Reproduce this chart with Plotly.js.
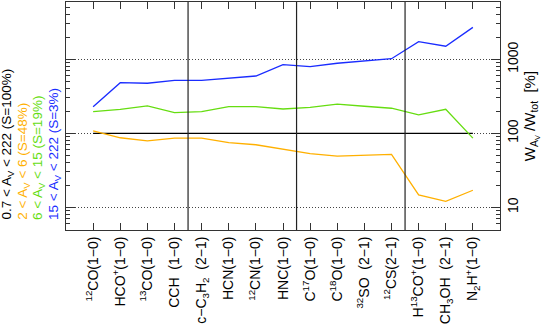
<!DOCTYPE html>
<html><head><meta charset="utf-8">
<script src="https://cdn.plot.ly/plotly-3.0.1.min.js"></script>
<style>html,body{margin:0;padding:0;background:#fff}#c{width:543px;height:332px}</style>
</head><body><div id="c"></div>
<script>
const lines = ["<sup>12</sup>CO(1\u22120)","HCO<sup>+</sup>(1\u22120)","<sup>13</sup>CO(1\u22120)","CCH  (1\u22120)",
  "c\u2212C<sub>3</sub>H<sub>2</sub>  (2\u22121)","HCN(1\u22120)","<sup>12</sup>CN(1\u22120)","HNC(1\u22120)",
  "C<sup>17</sup>O(1\u22120)","C<sup>18</sup>O(1\u22120)","<sup>32</sup>SO  (2\u22121)","<sup>12</sup>CS(2\u22121)",
  "H<sup>13</sup>CO<sup>+</sup>(1\u22120)","CH<sub>3</sub>OH  (2\u22121)","N<sub>2</sub>H<sup>+</sup>(1\u22120)"];
const total = [100,100,100,100,100,100,100,100,100,100,100,100,100,100,100];
const av2to6 = [108,87,79,86,86,75,70,61,53,49,50,52,14.7,12,17];
const av6to15 = [196,211,234,190,196,229,229,213,224,247,232,218,177,211,86];
const av15up = [229,483,474,520,520,553,594,845,795,884,948,1018,1730,1500,2700];
const seriesNames = ["0.7 < A<sub>V</sub> < 222 (S=100%)","2 < A<sub>V</sub> < 6 (S=48%)","6 < A<sub>V</sub> < 15 (S=19%)","15 < A<sub>V</sub> < 222 (S=3%)"];
const seriesColors = ["#000000","#ffb000","#66dd11","#1a2cff"];
const groupBoundaries = [3.5, 7.5, 11.5];
const majorTicks = [10,100,1000];
const majorLabels = ["10","100","1000"];

const idx = lines.map((_, i) => i);
const data = [total, av2to6, av6to15, av15up].map((y, k) => ({
  x: idx, y: y, type: 'scatter', mode: 'lines', name: seriesNames[k],
  line: {color: seriesColors[k], width: 1.3}, showlegend: false
}));

const minor = [];
for (let d = 1; d <= 1000; d *= 10) for (let m = 2; m <= 9; m++) minor.push(m * d);

const shapes = groupBoundaries.map(b => ({type:'line', xref:'x', yref:'paper', x0:b, x1:b, y0:0, y1:1,
  line:{color:'#222', width:1.2}}));

const annotations = seriesNames.map((t, k) => ({
  text: t, xref:'paper', yref:'paper', x: 0, y: 0.035, xshift: -58 + 15.3*k, yanchor:'bottom', xanchor:'center',
  textangle: -90, showarrow:false, font:{color: seriesColors[k], size:13.5, family:'Liberation Sans, Arial, sans-serif'}
}));

const layout = {
  width:543, height:332, margin:{l:66, r:43, t:2, b:102},
  paper_bgcolor:'#fff', plot_bgcolor:'#fff',
  font:{family:'Liberation Sans, Arial, sans-serif', size:14, color:'#000'},
  xaxis:{range:[-1,15], tickmode:'array', tickvals:idx, ticktext:lines, tickangle:-90,
    ticks:'inside', ticklen:7, tickcolor:'#333', showline:true, linecolor:'#333', linewidth:1, mirror:'allticks',
    showgrid:false, zeroline:false, tickfont:{size:14}},
  yaxis:{type:'log', range:[0.693, 3.774], side:'right', tickmode:'array', tickvals:majorTicks, ticktext:majorLabels,
    tickangle:-90, ticks:'inside', ticklen:9, tickcolor:'#333', showline:true, linecolor:'#333', linewidth:1, mirror:'allticks',
    showgrid:true, gridcolor:'#444', griddash:'1px,2px', gridwidth:1.2, zeroline:false, tickfont:{size:14},
    minor:{tickvals:minor, ticks:'inside', ticklen:4, tickcolor:'#333', showgrid:false},
    title:{text:'W<sub>A<sub>V</sub></sub> /W<sub>tot</sub>  [%]', font:{size:15}, standoff:2}},
  shapes: shapes, annotations: annotations
};
Plotly.newPlot('c', data, layout, {displayModeBar:false, staticPlot:true});
</script></body></html>
